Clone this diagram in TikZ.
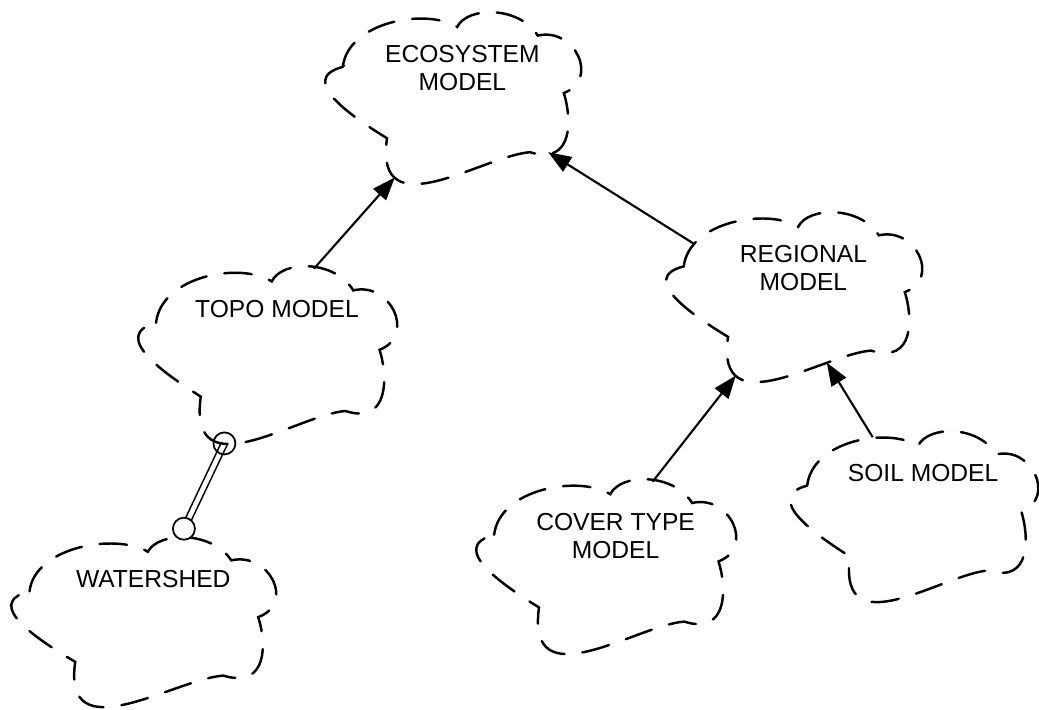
\documentclass[tikz,border=0pt]{standalone}
\usepackage{fontspec}
\setmainfont{Liberation Sans}
\usetikzlibrary{arrows.meta,backgrounds}

% one Booch class cloud: name, x, y, width, height, label
\newcommand{\bcloud}[6]{%
  \begin{scope}[shift={(#2,#3)}, xscale=#4, yscale=#5]
    \draw[cloudline] (.08,.69) .. controls (.10,.95) and (.40,1.03) .. (.52,.92)
      .. controls (.56,1.04) and (.76,1.04) .. (.83,.87)
      .. controls (.97,.92) and (1.07,.62) .. (.93,.54)
      .. controls (.96,.40) and (.97,.12) .. (.80,.20)
      .. controls (.62,.18) and (.20,-.25) .. (.25,.28)
      .. controls (.12,.40) and (-.10,.62) .. cycle;
    \coordinate (#1-top) at (.68,.99);
    \coordinate (#1-tl) at (.34,.97);
    \coordinate (#1-ul) at (.12,.82);
    \coordinate (#1-bl) at (.28,.055);
    \coordinate (#1-bm) at (.63,.13);
    \coordinate (#1-br) at (.87,.20);
    \coordinate (#1-bot) at (.34,.02);
    \node[cloudtext] (#1) at (.54,.815) {#6};
  \end{scope}}

\begin{document}
\begin{tikzpicture}[
  cloudline/.style={line width=1.4pt, dash pattern=on 5.5mm off 3.6mm, line cap=round},
  cloudtext/.style={anchor=north, inner sep=0pt, align=center, font=\fontsize{14}{15.8}\selectfont},
  arr/.style={-{Triangle[length=4.6mm,width=3.4mm]}, line width=1.2pt},
  hascirc/.style={circle, draw, line width=1pt, minimum size=4.4mm, inner sep=0pt},
  usecirc/.style={hascirc, fill=white},
  link/.style={double, line width=0.9pt, double distance=2.6pt}]
\useasboundingbox (0,0) rectangle (20.78,14.2);

\bcloud{eco}{6.44}{10.46}{5.2}{3.48}{ECOSYSTEM\\MODEL}
\bcloud{topo}{2.7}{5.26}{5.26}{3.6}{TOPO MODEL}
\bcloud{reg}{13.26}{6.5}{5.2}{3.44}{REGIONAL\\MODEL}
\bcloud{cover}{9.46}{1.06}{5.28}{3.54}{COVER TYPE\\MODEL}
\bcloud{soil}{15.74}{2.1}{5.04}{3.46}{SOIL MODEL}
\bcloud{wat}{0.16}{0}{5.38}{3.44}{WATERSHED}

\draw[arr] (topo-top) -- (eco-bl);
\draw[arr] (reg-ul) -- (eco-br);
\draw[arr] (cover-top) -- (reg-bl);
\draw[arr] (soil-tl) -- (reg-bm);

% has / uses link between topo and watershed
\node[hascirc] (has) at (topo-bot) {};
\node[usecirc] (use) at ([xshift=-1.4mm,yshift=2.2mm]wat-top) {};
\begin{scope}[on background layer]
  \draw[link] (use.center) -- (has.center);
\end{scope}
\end{tikzpicture}
\end{document}
